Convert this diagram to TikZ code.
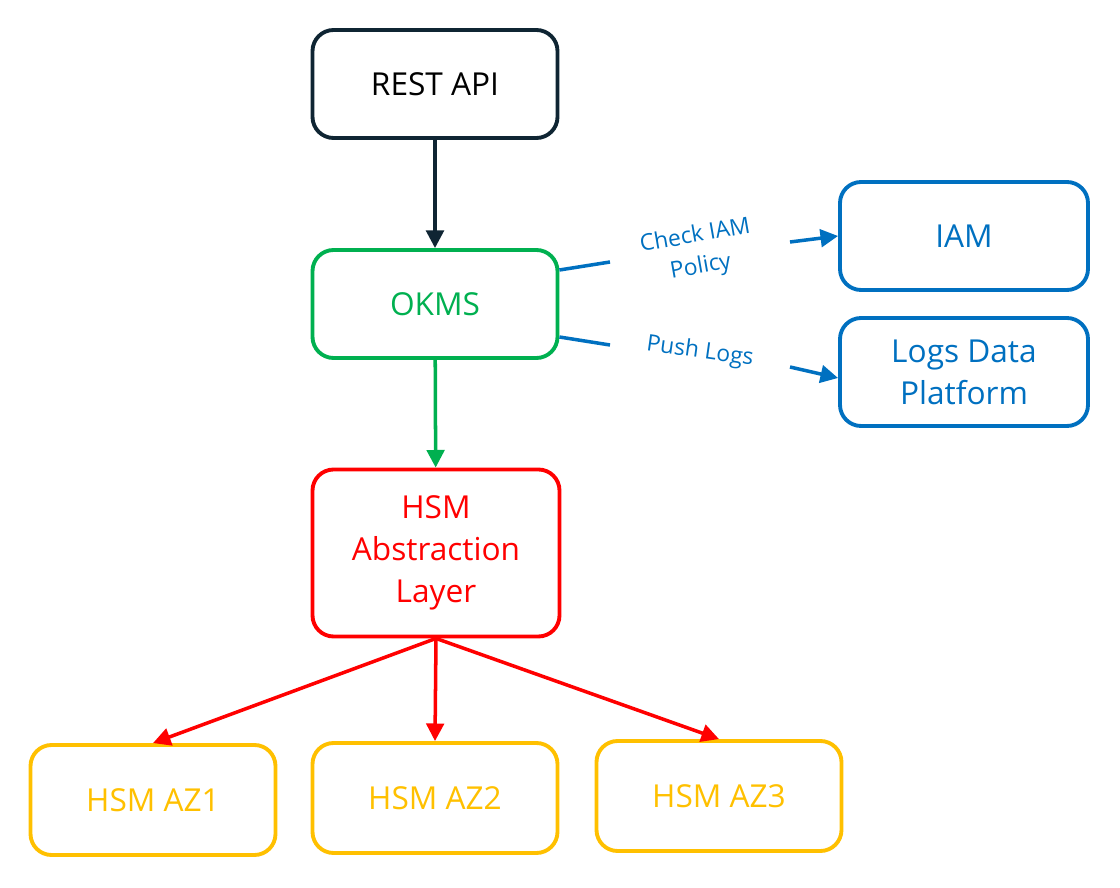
\documentclass[tikz,border=0pt]{standalone}
\usepackage{fontspec}
\setmainfont{Open Sans}
\usetikzlibrary{positioning, arrows.meta}
\definecolor{cdark}{RGB}{15,37,51}
\definecolor{cgreen}{RGB}{0,176,80}
\definecolor{cblue}{RGB}{0,112,192}
\definecolor{cred}{RGB}{255,0,0}
\definecolor{cyell}{RGB}{255,192,0}
\newlength{\unitlen}\setlength{\unitlen}{0.02cm}
\tikzset{
Box/.style={draw, line width=2.2pt, rounded corners=12pt, minimum width=245\unitlen,
  minimum height=108\unitlen, align=center, font=\fontsize{18}{24}\selectfont},
Arrow/.style={line width=2pt, -{Triangle[length=10pt, width=10pt]}},
}
\begin{document}
\begin{tikzpicture}[x=0.02cm, y=-0.02cm]
    \useasboundingbox (0,0) rectangle (1120,888);
    \node [Box, draw=cdark, text=black] (rest) at (435,84) {REST API};
    \node [Box, draw=cgreen, text=cgreen] (okms) at (435,304) {OKMS};
    \node [Box, draw=cblue, text=cblue, minimum width=248\unitlen] (iam) at (964,236) {IAM};
    \node [Box, draw=cblue, text=cblue, minimum width=248\unitlen] (logs) at (964,372) {Logs Data\\Platform};
    \node [Box, draw=cred, text=cred, minimum width=247\unitlen, minimum height=167\unitlen] (hal) at (436,553) {HSM\\Abstraction\\Layer};
    \node [Box, draw=cyell, text=cyell, minimum height=110\unitlen] (az1) at (153,800) {HSM AZ1};
    \node [Box, draw=cyell, text=cyell, minimum height=110\unitlen] (az2) at (435,798) {HSM AZ2};
    \node [Box, draw=cyell, text=cyell, minimum height=110\unitlen] (az3) at (719,796) {HSM AZ3};

    \node [text=cblue, rotate=10, align=center, font=\fontsize{13}{18}\selectfont] (chk) at (698,252) {Check IAM\\Policy};
    \node [text=cblue, rotate=-8, font=\fontsize{13}{15}\selectfont] (push) at (700,352) {Push Logs};
    \coordinate (c1) at (610,262);
    \coordinate (c2) at (790,242);
    \coordinate (c3) at (610,345);
    \coordinate (c4) at (790,367);

    \draw[Arrow, cdark] (rest) -- (okms);
    \draw[Arrow, cgreen] (okms) -- (hal);
    \draw[line width=2pt, cblue] (okms.east |- 0,270) -- (c1);
    \draw[Arrow, cblue] (c2) -- (iam.west |- 0,236);
    \draw[line width=2pt, cblue] (okms.east |- 0,337) -- (c3);
    \draw[Arrow, cblue] (c4) -- (logs.west |- 0,378);
    \draw[Arrow, cred] (hal.south) -- (az1.north);
    \draw[Arrow, cred] (hal.south) -- (az2.north);
    \draw[Arrow, cred] (hal.south) -- (az3.north);
\end{tikzpicture}
\end{document}
